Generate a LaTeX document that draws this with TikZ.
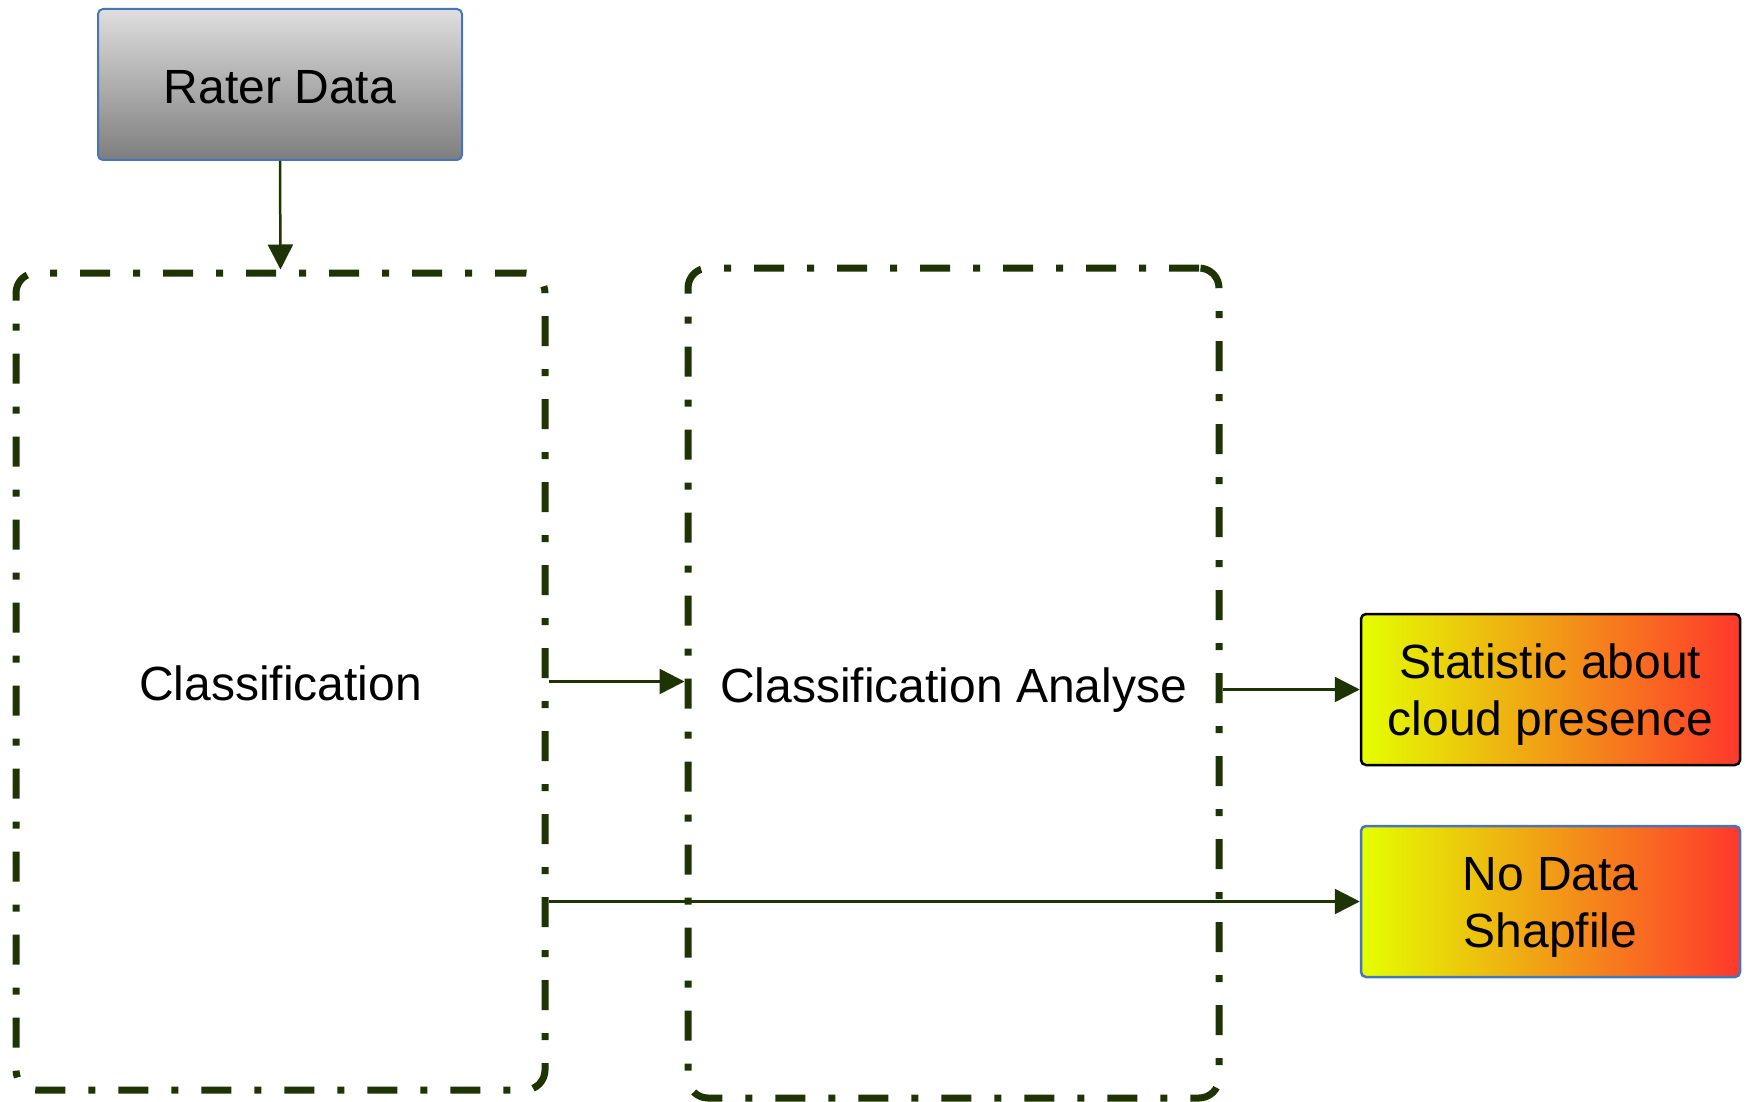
\documentclass[tikz,border=0pt]{standalone}
\usepackage{fontspec}
\setmainfont{Liberation Sans}
\usetikzlibrary{arrows.meta}

\definecolor{framegreen}{RGB}{30,52,4}
\definecolor{edgeblue}{RGB}{70,118,184}
\definecolor{greytop}{RGB}{222,222,222}
\definecolor{greybot}{RGB}{126,126,126}
\definecolor{hotyellow}{RGB}{228,255,0}
\definecolor{hotorange}{RGB}{244,176,40}
\definecolor{hotred}{RGB}{255,56,44}

\tikzset{
  bigtext/.style={font=\fontsize{48}{57}\selectfont, text=black, align=center},
  oneline/.style={text height=38pt, text depth=0pt},
  twolines/.style={text height=91.4pt, text depth=0pt},
  sourcebox/.style={bigtext, oneline, draw=edgeblue, line width=2pt, rounded corners=5pt,
    top color=greytop, bottom color=greybot, minimum width=364pt, minimum height=151pt},
  stagebox/.style={bigtext, oneline, draw=framegreen, line width=7pt, rounded corners=20pt,
    dash pattern=on 30pt off 23pt on 7pt off 23pt},
  resultbox/.style={bigtext, twolines, line width=2.5pt, rounded corners=5pt,
    left color=hotyellow, middle color=hotorange, right color=hotred,
    minimum width=379pt, minimum height=151pt},
  flow/.style={draw=framegreen, line width=2.5pt,
    -{Triangle[length=25pt,width=25pt]}},
}

\begin{document}
\begin{tikzpicture}[x=1pt,y=-1pt]
  \useasboundingbox (0,0) rectangle (1748,1102);

  \node[sourcebox] (rater) at (280,84.5) {Rater Data};

  \node[stagebox, minimum width=529pt, minimum height=817pt] (classif) at (280.5,681.5) {Classification};
  \node[stagebox, minimum width=531pt, minimum height=830pt] (analyse) at (953.5,683) {Classification Analyse};

  \node[resultbox, draw=black] (stat) at (1550.5,689.5) {Statistic about\\cloud presence};
  \node[resultbox, draw=edgeblue] (nodata) at (1550.5,901.5) {No Data\\Shapfile};

  \draw[flow] (rater.south) -- (classif.north);
  \draw[flow] (classif.east) -- (analyse.west |- classif.east);
  \draw[flow] (analyse.east |- stat.west) -- (stat.west);
  \draw[flow] (classif.east |- nodata.west) -- (nodata.west);
\end{tikzpicture}
\end{document}
